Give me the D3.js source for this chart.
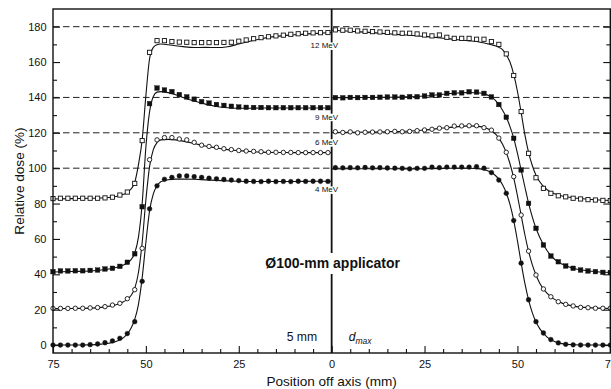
<!DOCTYPE html>
<html>
<head>
<meta charset="utf-8">
<script src="https://cdn.jsdelivr.net/npm/d3@7"></script>
<style>
  html, body { margin: 0; padding: 0; background: #fff; }
  svg { display: block; font-family: "Liberation Sans", Arial, Helvetica, sans-serif; }
</style>
</head>
<body>
<svg id="chart" width="611" height="389"></svg>
<script>
// ---- Measured profiles (symbols): left half at 5 mm depth, right half at d_max ----
const measuredLeftX = [-75,-73,-71,-69,-67,-65,-63,-61,-59,-57,-55,-53,-51,-49,-47,-45,-43,-41,-39,-37,
                       -35,-33,-31,-29,-27,-25,-23,-21,-19,-17,-15,-13,-11,-9,-7,-5,-3,-1];
const measuredRightX = [1,3,5,7,9,11,13,15,17,19,21,23,25,27,29,31,33,35,37,39,
                        41,43,45,47,49,51,53,55,57,59,61,63,65,67,69,71,73,75];

const measured4Left  = [0,0,0,0,0,0.2,0.6,1.3,2.3,3.8,6.5,13.2,36,77,90,93.7,94.8,95.6,95.6,95.2,
                        94.8,94.3,94,93.6,93.3,93,92.6,92.5,92.4,92.6,92.4,92.5,92.4,92.6,92.5,92.6,92.6,92.5];
const measured6Left  = [20.7,20.7,20.7,20.8,20.8,21,21.2,21.7,22.6,23.6,26.2,31.3,54.7,104.8,116,117.3,117.3,116.5,116,114.6,
                        113,112.3,111.8,111,110.5,110,109.7,109.5,109.3,109,109,108.9,108.9,108.8,108.8,108.8,108.8,108.8];
const measured9Left  = [41.5,41.9,41.9,42,42,42.2,42.4,43,43.4,44.5,46.8,51.6,78.2,136.5,145.3,144.2,143.3,141.6,140.3,139,
                        137.6,136.8,136,135.5,135,134.6,134.4,134.3,134.3,134.2,134.2,134.2,134.2,134.2,134.2,134.2,134.2,134.2];
const measured12Left = [82.8,83,83,83,83,83,83,83.2,83.6,84.8,86.5,91.4,115.6,165.5,172.1,172.1,171.6,171.3,171.2,171,
                        171,171,171,171.1,171.2,171.8,172.5,173.2,173.8,174.3,174.8,175.2,175.7,176,176.3,176.5,176.6,176.7];

const measured4Right  = [100.3,100.2,100.3,100.2,100.4,100.2,100.3,100.1,100,99.9,99.6,99.9,99.9,100.6,100.3,100.6,100.6,100.6,100.6,100.8,
                         100,97.5,93.3,85.8,70.4,46.3,25.6,13.2,6.8,3.1,1.2,0.4,0.1,0,0,0,0,0];
const measured6Right  = [120.6,120.2,120.5,120,120.3,120.4,120.5,120.6,120.8,120.6,120.8,121.2,121.6,122,122.6,122.9,123.8,123.9,124,124,
                         122.9,121.5,117,109,95.2,73.5,53.1,39.6,31.7,27.3,24.5,23,22.1,21.3,21.1,20.8,20.8,20.8];
const measured9Right  = [139.9,139.8,140,139.9,140,140,140.1,140.2,140.2,140.1,140.4,140.4,140.8,141.4,141.4,142.3,142.6,142.6,143.2,143,
                         142.3,140.3,136,128.8,116.9,99,80.1,66,56.6,50.3,47.1,44.7,43.4,42.4,41.9,41.5,41.1,41];
const measured12Right = [178.2,178,178,177.6,177.4,177.2,177,176.8,176.5,176.3,176.3,175.9,175.3,174.8,175.3,174,173.4,173.4,173.4,172.9,
                         172.9,171.6,170,164.6,152.4,132,108.4,94.6,88.6,85.8,84.4,83.8,83,82.6,82.2,82,81.8,81.7];

// ---- Calculated profiles (solid lines) ----
const calcLeftX  = [-75,-70,-65,-62,-60,-58,-56,-55,-54,-53,-52,-51,-50,-49,-48,-47,-46,-44,-42,-40,
                    -37,-34,-31,-28,-25,-22,-19,-15,-10,-5,0];
const calcRightX = [0,5,10,15,20,25,30,34,37,40,42,43,44,45,46,47,48,49,50,51,
                    52,53,54,55,56,58,60,62,65,70,75];

const calc4Left  = [0,0,0.1,0.5,1,2,4.2,6.3,9.5,14.5,23,38,58,76,85.5,90,92.3,93.5,93.8,93.8,
                    93.7,93.4,93.1,92.8,92.6,92.5,92.5,92.5,92.5,92.6,92.6];
const calc6Left  = [20.6,20.7,20.9,21.3,21.9,22.8,24.5,25.8,28,32,41,58,82,101,110.5,114.5,116,116.3,116,115.3,
                    114,112.5,111.4,110.5,109.9,109.4,109.1,108.9,108.8,108.8,108.8];
const calc9Left  = [41.3,41.6,41.9,42.4,43,43.8,45.3,46.5,48.3,52,61,80,112,132,140.5,143,143.3,142.7,141.5,140,
                    138,136.2,134.9,134.2,133.9,133.9,134,134,134,134,134];
const calc12Left = [82.6,82.8,83,83.1,83.4,84,85.2,86.2,88.2,92,102,116,141,162,168.3,169.8,170.2,169.8,169.2,168.7,
                    168.2,168.3,168.2,168.7,170.2,171.8,173.2,174.5,175.4,176.1,176.7];

const calc4Right  = [99.6,99.7,99.7,99.7,99.6,99.7,99.9,100,100,99.6,98.6,97.6,96,93.8,90.6,86,79.5,70.5,59,46.5,
                     35,25.5,18.3,13,9.3,4.5,2,0.8,0.2,0,0];
const calc6Right  = [120.2,120.3,120.4,120.6,120.9,121.6,122.7,123.5,123.9,123.5,122.3,121.2,119.5,117,113.5,108.8,102.5,94.5,84.5,73.5,
                     62.5,53,45.5,39.6,35,29.2,25.8,23.7,22,21,20.7];
const calc9Right  = [139.8,139.9,140,140.1,140.3,140.8,141.8,142.5,142.8,142.5,141.3,140.3,138.5,136,132.8,128.8,123.5,117,108.5,99,
                     89.5,80.3,72.5,66,61,53.3,48.5,45.8,43.4,41.7,41];
const calc12Right = [178,177.4,176.8,176,175.3,174.5,173.5,172.6,172,171.2,170.3,169.8,169.2,168.3,167,164,160,153,143.5,131.5,
                     119,109,101.5,96,92.3,87.8,85.5,84.3,83.3,82.3,81.7];

const energies = ["4 MeV", "6 MeV", "9 MeV", "12 MeV"];
const doseTicks = [0, 20, 40, 60, 80, 100, 120, 140, 160, 180];
const doseMinorTicks = [10, 30, 50, 70, 90, 110, 130, 150, 170];
const positionTicks = [-75, -50, -25, 0, 25, 50, 75];
const positionMinorTicks = [-70,-65,-60,-55,-45,-40,-35,-30,-20,-15,-10,-5,5,10,15,20,30,35,40,45,55,60,65,70];
const referenceLevels = [100, 120, 140, 180];

// ---- Layout ----
const svg = d3.select("#chart");
const plot = { left: 53, right: 610.3, top: 9, bottom: 353 };

const x = d3.scaleLinear().domain([-75, 75]).range([plot.left, plot.right]);
const y = d3.scaleLinear().domain([-4.5, 190]).range([plot.bottom, plot.top]);

const zip = (xs, ys) => xs.map((v, i) => [v, ys[i]]);

// Reference dashed levels
svg.append("g").selectAll("line").data(referenceLevels).join("line")
  .attr("x1", plot.left).attr("x2", plot.right)
  .attr("y1", d => y(d)).attr("y2", d => y(d))
  .attr("stroke", "#222").attr("stroke-width", 1)
  .attr("stroke-dasharray", "6.5,3.5");

// Calculated curves
const line = d3.line().x(d => x(d[0])).y(d => y(d[1])).curve(d3.curveMonotoneX);
const calcSeries = [
  zip(calcLeftX, calc4Left), zip(calcLeftX, calc6Left), zip(calcLeftX, calc9Left), zip(calcLeftX, calc12Left),
  zip(calcRightX, calc4Right), zip(calcRightX, calc6Right), zip(calcRightX, calc9Right), zip(calcRightX, calc12Right)
];
svg.append("g").selectAll("path").data(calcSeries).join("path")
  .attr("d", line).attr("fill", "none").attr("stroke", "#111").attr("stroke-width", 1.1);

// Measured symbols: 4 MeV filled circle, 6 MeV open circle, 9 MeV filled square, 12 MeV open square
const symbolSets = [
  { pts: zip(measuredLeftX, measured4Left).concat(zip(measuredRightX, measured4Right)), shape: "circle", filled: true },
  { pts: zip(measuredLeftX, measured6Left).concat(zip(measuredRightX, measured6Right)), shape: "circle", filled: false },
  { pts: zip(measuredLeftX, measured9Left).concat(zip(measuredRightX, measured9Right)), shape: "square", filled: true },
  { pts: zip(measuredLeftX, measured12Left).concat(zip(measuredRightX, measured12Right)), shape: "square", filled: false }
];
symbolSets.forEach(set => {
  const g = svg.append("g");
  if (set.shape === "circle") {
    g.selectAll("circle").data(set.pts).join("circle")
      .attr("cx", d => x(d[0])).attr("cy", d => y(d[1]))
      .attr("r", set.filled ? 2.4 : 2.2)
      .attr("fill", set.filled ? "#111" : "#fff")
      .attr("stroke", "#111").attr("stroke-width", set.filled ? 0.4 : 0.9);
  } else {
    const s = set.filled ? 4.6 : 4.2;
    g.selectAll("rect").data(set.pts).join("rect")
      .attr("x", d => x(d[0]) - s / 2).attr("y", d => y(d[1]) - s / 2)
      .attr("width", s).attr("height", s)
      .attr("fill", set.filled ? "#111" : "#fff")
      .attr("stroke", "#111").attr("stroke-width", set.filled ? 0.4 : 0.9);
  }
});

// Central axis line
svg.append("line")
  .attr("x1", x(0)).attr("x2", x(0)).attr("y1", plot.top).attr("y2", plot.bottom)
  .attr("stroke", "#111").attr("stroke-width", 1.8);

// Energy labels on white patches over the central line
const energyLabelAt = [86.3, 113, 127.4, 167.7];
const labG = svg.append("g");
energies.forEach((name, i) => {
  const t = labG.append("text")
    .attr("x", x(0) + 6.5).attr("y", y(energyLabelAt[i]))
    .attr("text-anchor", "end").attr("font-size", 8).attr("fill", "#111")
    .text(name);
  const b = t.node().getBBox();
  labG.insert("rect", () => t.node())
    .attr("x", b.x - 0.5).attr("y", b.y + 1).attr("width", b.width + 1).attr("height", b.height - 1.5)
    .attr("fill", "#fff");
});

// Applicator caption
const capG = svg.append("g");
const cap = capG.append("text")
  .attr("x", x(0) + 1).attr("y", 268)
  .attr("text-anchor", "middle").attr("font-size", 14).attr("font-weight", "bold").attr("fill", "#111")
  .text("Ø100-mm applicator");
const cb = cap.node().getBBox();
capG.insert("rect", () => cap.node())
  .attr("x", cb.x - 2).attr("y", cb.y - 2).attr("width", cb.width + 4).attr("height", cb.height + 5)
  .attr("fill", "#fff");

// Depth annotations
svg.append("text")
  .attr("x", x(0) - 14.5).attr("y", 341)
  .attr("text-anchor", "end").attr("font-size", 12.2).attr("fill", "#111")
  .text("5 mm");
const dm = svg.append("text")
  .attr("x", x(0) + 17).attr("y", 341)
  .attr("font-size", 12.2).attr("font-style", "italic").attr("fill", "#111");
dm.append("tspan").text("d");
dm.append("tspan").attr("font-size", 8.5).attr("dy", 3).text("max");

// Axes
const gx = svg.append("g").attr("transform", `translate(0,${plot.bottom})`);
gx.call(d3.axisBottom(x).tickValues(positionTicks).tickSize(-7).tickPadding(7.5)
  .tickFormat(d => Math.abs(d)));
const gxm = svg.append("g").attr("transform", `translate(0,${plot.bottom})`);
gxm.call(d3.axisBottom(x).tickValues(positionMinorTicks).tickSize(-4).tickFormat(""));

const gy = svg.append("g").attr("transform", `translate(${plot.left},0)`);
gy.call(d3.axisLeft(y).tickValues(doseTicks).tickSize(-7).tickPadding(6.5));
const gym = svg.append("g").attr("transform", `translate(${plot.left},0)`);
gym.call(d3.axisLeft(y).tickValues(doseMinorTicks).tickSize(-4).tickFormat(""));

const gr = svg.append("g").attr("transform", `translate(${plot.right},0)`);
gr.call(d3.axisRight(y).tickValues(doseTicks).tickSize(-7).tickFormat(""));
const grm = svg.append("g").attr("transform", `translate(${plot.right},0)`);
grm.call(d3.axisRight(y).tickValues(doseMinorTicks).tickSize(-4).tickFormat(""));

[gx, gxm, gy, gym, gr, grm].forEach(g => {
  g.select(".domain").remove();
  g.selectAll(".tick line").attr("stroke", "#111").attr("stroke-width", 1.1);
  g.selectAll(".tick text").attr("font-size", 11).attr("fill", "#111")
    .attr("font-family", "\"Liberation Sans\", Arial, Helvetica, sans-serif");
});

// Frame
svg.append("rect")
  .attr("x", plot.left).attr("y", plot.top)
  .attr("width", plot.right - plot.left).attr("height", plot.bottom - plot.top)
  .attr("fill", "none").attr("stroke", "#111").attr("stroke-width", 1.4);

// Axis titles
svg.append("text")
  .attr("x", x(0)).attr("y", 386)
  .attr("text-anchor", "middle").attr("font-size", 13.6).attr("fill", "#111")
  .text("Position off axis (mm)");
svg.append("text")
  .attr("transform", `translate(24,${(plot.top + plot.bottom) / 2}) rotate(-90)`)
  .attr("text-anchor", "middle").attr("font-size", 13.6).attr("fill", "#111")
  .text("Relative dose (%)");
</script>
</body>
</html>
